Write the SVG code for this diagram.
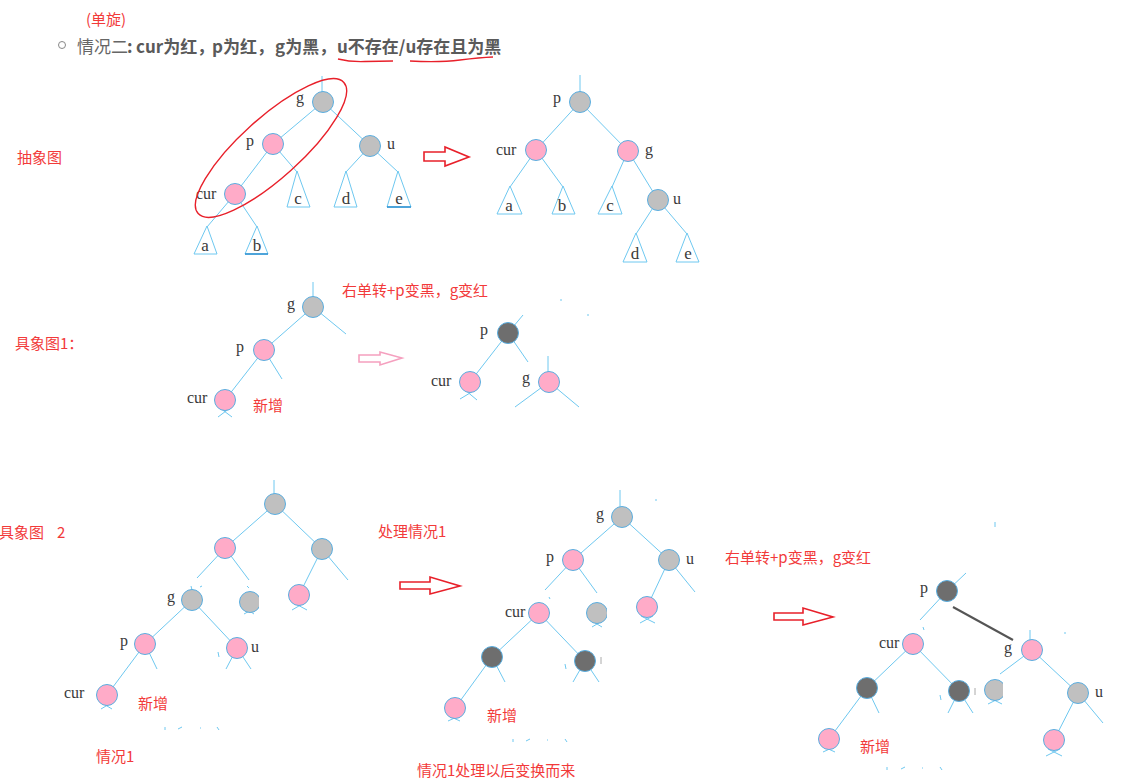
<svg xmlns="http://www.w3.org/2000/svg" width="1122" height="782" viewBox="0 0 1122 782">
<style>
.red{font-family:"Noto Sans CJK SC","Noto Sans",sans-serif;font-size:15px;fill:#f23a3a}
.hd{font-family:"Noto Sans CJK SC","Noto Sans",sans-serif;font-size:17px;fill:#666}
.lbl{font-family:"Liberation Serif",serif;font-size:16px;fill:#3a3a3a}
.tl{font-family:"Liberation Serif",serif;font-size:17px;fill:#3a3a3a;text-anchor:middle}
.e{stroke:#6ec8f0;stroke-width:1;fill:none}
.tri{stroke:#6ec8f0;stroke-width:1;fill:#fff}
.pk{fill:#ffabc8;stroke:#5aaee0;stroke-width:1}
.gy{fill:#c0c0c0;stroke:#5aaee0;stroke-width:1}
.dk{fill:#6e6e6e;stroke:#5aaee0;stroke-width:1}
.arr{fill:#fff;stroke:#e8202a;stroke-width:1.6}
</style>
<defs>
<clipPath id="c1"><rect x="230" y="580" width="29" height="40"/></clipPath>
<clipPath id="c2"><rect x="580" y="590" width="27" height="40"/></clipPath>
<clipPath id="c3"><rect x="980" y="675" width="23" height="40"/></clipPath>
</defs>
<rect width="1122" height="782" fill="#fff"/>

<!-- header -->
<g id="header">
<text class="red" x="86" y="25">(单旋)</text>
<circle cx="62" cy="45" r="3.5" fill="none" stroke="#888" stroke-width="1"/>
<text class="hd" y="53"><tspan x="77">情况二</tspan><tspan x="127" font-weight="bold" fill="#5a5a5a">:</tspan><tspan x="136" font-weight="bold" fill="#5a5a5a">cur为红，</tspan><tspan x="212" font-weight="bold" fill="#5a5a5a">p为红，</tspan><tspan x="275" font-weight="bold" fill="#5a5a5a">g为黑，</tspan><tspan x="337" font-weight="bold" fill="#5a5a5a">u不存在/u存在且为黑</tspan></text>
<path d="M338,59 Q350,62 365,61.5 T393,61" fill="none" stroke="#e8202a" stroke-width="1.3"/>
<path d="M410,61 Q440,62.5 460,60 T493,57" fill="none" stroke="#e8202a" stroke-width="1.3"/>
</g>

<!-- section labels -->
<g id="labels">
<text class="red" x="17" y="163">抽象图</text>
<text class="red" x="15" y="349">具象图1：</text>
<text class="red" x="342" y="296">右单转+p变黑，g变红</text>
<text class="red" x="253" y="411">新增</text>
<text class="red" x="-1" y="538">具象图</text>
<text class="red" x="57" y="538">2</text>
<text class="red" x="378" y="537">处理情况1</text>
<text class="red" x="138" y="709">新增</text>
<text class="red" x="96" y="762">情况1</text>
<text class="red" x="487" y="721">新增</text>
<text class="red" x="417" y="776">情况1处理以后变换而来</text>
<text class="red" x="725" y="563">右单转+p变黑，g变红</text>
<text class="red" x="860" y="752">新增</text>
</g>

<!-- connectors -->
<g id="connectors">
<!-- abstract left -->
<line class="e" x1="322" y1="76" x2="322" y2="92"/>
<line class="e" x1="323" y1="102" x2="273" y2="144"/>
<line class="e" x1="323" y1="102" x2="370" y2="146"/>
<line class="e" x1="273" y1="144" x2="235" y2="194"/>
<line class="e" x1="273" y1="144" x2="297" y2="172"/>
<line class="e" x1="370" y1="146" x2="346" y2="172"/>
<line class="e" x1="370" y1="146" x2="398" y2="172"/>
<line class="e" x1="235" y1="194" x2="207" y2="227"/>
<line class="e" x1="235" y1="194" x2="257" y2="227"/>
<!-- abstract right -->
<line class="e" x1="580" y1="75" x2="580" y2="92"/>
<line class="e" x1="580" y1="102" x2="536" y2="150"/>
<line class="e" x1="580" y1="102" x2="628" y2="151"/>
<line class="e" x1="536" y1="150" x2="510" y2="187"/>
<line class="e" x1="536" y1="150" x2="563" y2="187"/>
<line class="e" x1="628" y1="151" x2="612" y2="187"/>
<line class="e" x1="628" y1="151" x2="658" y2="200"/>
<line class="e" x1="658" y1="200" x2="636" y2="234"/>
<line class="e" x1="658" y1="200" x2="687" y2="234"/>
<!-- concrete 1 left -->
<line class="e" x1="313" y1="282" x2="313" y2="297"/>
<line class="e" x1="313" y1="307" x2="264" y2="350"/>
<line class="e" x1="313" y1="307" x2="346" y2="334"/>
<line class="e" x1="264" y1="350" x2="225" y2="400"/>
<line class="e" x1="264" y1="350" x2="282" y2="379"/>
<line class="e" x1="220" y1="408" x2="232" y2="417"/>
<line class="e" x1="230" y1="408" x2="218" y2="417"/>
<!-- concrete 1 right -->
<line class="e" x1="508" y1="333" x2="523" y2="315"/>
<line class="e" x1="508" y1="333" x2="470" y2="382"/>
<line class="e" x1="508" y1="333" x2="528" y2="362"/>
<line class="e" x1="548" y1="356" x2="548" y2="372"/>
<line class="e" x1="549" y1="382" x2="515" y2="407"/>
<line class="e" x1="549" y1="382" x2="579" y2="407"/>
<line class="e" x1="465" y1="390" x2="477" y2="400"/>
<line class="e" x1="475" y1="390" x2="460" y2="399"/>
<line class="e" x1="561" y1="299" x2="561" y2="301"/>
<line class="e" x1="588" y1="314" x2="588" y2="316"/>
<!-- concrete 2 tree A -->
<line class="e" x1="274" y1="480" x2="274" y2="495"/>
<line class="e" x1="275" y1="504" x2="225" y2="548"/>
<line class="e" x1="275" y1="504" x2="322" y2="549"/>
<line class="e" x1="225" y1="548" x2="197" y2="578"/>
<line class="e" x1="225" y1="548" x2="249" y2="580"/>
<line class="e" x1="191" y1="586" x2="192" y2="590"/>
<line class="e" x1="200" y1="587" x2="202" y2="586"/>
<line class="e" x1="247" y1="586" x2="249" y2="588"/>
<line class="e" x1="322" y1="549" x2="299" y2="595"/>
<line class="e" x1="322" y1="549" x2="348" y2="580"/>
<line class="e" x1="294" y1="603" x2="307" y2="610"/>
<line class="e" x1="304" y1="603" x2="292" y2="610"/>
<line class="e" x1="192" y1="600" x2="145" y2="644"/>
<line class="e" x1="192" y1="600" x2="237" y2="648"/>
<line class="e" x1="145" y1="644" x2="107" y2="695"/>
<line class="e" x1="145" y1="644" x2="157" y2="669"/>
<line class="e" x1="237" y1="648" x2="226" y2="669"/>
<line class="e" x1="237" y1="648" x2="251" y2="669"/>
<line class="e" x1="218" y1="652" x2="219" y2="657"/>
<line class="e" x1="245" y1="608" x2="254" y2="614"/>
<line class="e" x1="255" y1="608" x2="244" y2="614"/>
<line class="e" x1="102" y1="703" x2="112" y2="709"/>
<line class="e" x1="111" y1="703" x2="101" y2="709"/>
<line class="e" x1="165" y1="727" x2="165" y2="730"/>
<line class="e" x1="178" y1="729" x2="182" y2="727"/>
<line class="e" x1="200" y1="728" x2="201" y2="728"/>
<line class="e" x1="217" y1="727" x2="219" y2="730"/>
<!-- concrete 2 tree B -->
<line class="e" x1="620" y1="490" x2="620" y2="507"/>
<line class="e" x1="622" y1="517" x2="573" y2="560"/>
<line class="e" x1="622" y1="517" x2="669" y2="560"/>
<line class="e" x1="573" y1="560" x2="545" y2="590"/>
<line class="e" x1="573" y1="560" x2="597" y2="593"/>
<line class="e" x1="549" y1="597" x2="550" y2="599"/>
<line class="e" x1="669" y1="560" x2="647" y2="607"/>
<line class="e" x1="669" y1="560" x2="695" y2="592"/>
<line class="e" x1="641" y1="616" x2="655" y2="623"/>
<line class="e" x1="653" y1="616" x2="640" y2="623"/>
<line class="e" x1="592" y1="621" x2="602" y2="627"/>
<line class="e" x1="602" y1="621" x2="592" y2="627"/>
<line class="e" x1="539" y1="613" x2="492" y2="657"/>
<line class="e" x1="539" y1="613" x2="585" y2="661"/>
<line class="e" x1="492" y1="657" x2="455" y2="708"/>
<line class="e" x1="492" y1="657" x2="505" y2="682"/>
<line class="e" x1="585" y1="661" x2="573" y2="682"/>
<line class="e" x1="585" y1="661" x2="599" y2="682"/>
<line class="e" x1="565" y1="664" x2="566" y2="669"/>
<line class="e" x1="449" y1="716" x2="460" y2="721"/>
<line class="e" x1="459" y1="716" x2="448" y2="721"/>
<line class="e" x1="656" y1="499" x2="656" y2="501"/>
<line class="e" x1="513" y1="739" x2="513" y2="742"/>
<line class="e" x1="526" y1="741" x2="530" y2="739"/>
<line class="e" x1="547" y1="740" x2="548" y2="740"/>
<line class="e" x1="565" y1="739" x2="567" y2="742"/>
<!-- concrete 2 tree C -->
<line class="e" x1="995" y1="522" x2="995" y2="527"/>
<line class="e" x1="947" y1="591" x2="966" y2="573"/>
<line class="e" x1="947" y1="591" x2="920" y2="620"/>
<line class="e" x1="923" y1="627" x2="924" y2="630"/>
<line x1="953" y1="607" x2="1013" y2="640" stroke="#555" stroke-width="2"/>
<line class="e" x1="1030" y1="630" x2="1030" y2="640"/>
<line class="e" x1="1065" y1="632" x2="1065" y2="634"/>
<line class="e" x1="913" y1="644" x2="867" y2="688"/>
<line class="e" x1="913" y1="644" x2="959" y2="691"/>
<line class="e" x1="867" y1="688" x2="829" y2="739"/>
<line class="e" x1="867" y1="688" x2="879" y2="713"/>
<line class="e" x1="959" y1="691" x2="948" y2="713"/>
<line class="e" x1="959" y1="691" x2="973" y2="713"/>
<line class="e" x1="940" y1="695" x2="941" y2="700"/>
<line class="e" x1="1032" y1="650" x2="1000" y2="674"/>
<line class="e" x1="1032" y1="650" x2="1078" y2="693"/>
<line class="e" x1="990" y1="698" x2="1002" y2="704"/>
<line class="e" x1="1000" y1="698" x2="988" y2="704"/>
<line class="e" x1="1078" y1="693" x2="1054" y2="740"/>
<line class="e" x1="1078" y1="693" x2="1103" y2="723"/>
<line class="e" x1="1048" y1="749" x2="1062" y2="756"/>
<line class="e" x1="1060" y1="749" x2="1046" y2="756"/>
<line class="e" x1="824" y1="747" x2="835" y2="752"/>
<line class="e" x1="834" y1="747" x2="823" y2="752"/>
<line class="e" x1="887" y1="767" x2="887" y2="770"/>
<line class="e" x1="901" y1="769" x2="905" y2="767"/>
<line class="e" x1="922" y1="768" x2="923" y2="768"/>
<line class="e" x1="940" y1="767" x2="942" y2="770"/>
</g>

<!-- arrows -->
<g id="arrows">
<polygon class="arr" points="424,152 445,152 445,147 469,157 445,166 445,161 424,161"/>
<polygon points="359,355 380,355 380,352 402,358 380,365 380,362 359,362" fill="#fff" stroke="#f5a0bf" stroke-width="1.6"/>
<polygon class="arr" points="400,582 430,582 430,577 460,586 430,594 430,589 400,589"/>
<polygon class="arr" points="774,613 803,613 803,608 833,617 803,625 803,620 774,620"/>
</g>

<!-- abstract left tree -->
<g id="abs-left">
<g id="abs-tri-c"><polygon class="tri" points="297,171 287,207 310,207"/><text class="tl" x="298" y="204">c</text></g>
<g id="abs-tri-d"><polygon class="tri" points="346,171 334,207 357,207"/><text class="tl" x="346" y="204">d</text></g>
<g id="abs-tri-e"><polygon class="tri" points="398,171 387,207 411,207"/><line x1="387" y1="207" x2="411" y2="207" stroke="#2a8fd0" stroke-width="1.5"/><text class="tl" x="399" y="204">e</text></g>
<g id="abs-tri-a"><polygon class="tri" points="207,226 194,254 217,254"/><text class="tl" x="205" y="251">a</text></g>
<g id="abs-tri-b"><polygon class="tri" points="257,226 245,254 268,254"/><line x1="245" y1="254" x2="268" y2="254" stroke="#2a8fd0" stroke-width="1.5"/><text class="tl" x="257" y="251">b</text></g>
<g id="abs-g"><circle class="gy" cx="323" cy="102" r="10.5"/><text class="lbl" x="296" y="103">g</text></g>
<g id="abs-p"><circle class="pk" cx="273" cy="144" r="10.5"/><text class="lbl" x="246" y="146">p</text></g>
<g id="abs-u"><circle class="gy" cx="370" cy="146" r="10.5"/><text class="lbl" x="387" y="149">u</text></g>
<g id="abs-cur"><circle class="pk" cx="235" cy="194" r="10.5"/><text class="lbl" x="196" y="199">cur</text></g>
<ellipse cx="271" cy="148" rx="98" ry="30" transform="rotate(-42 271 148)" fill="none" stroke="#e8202a" stroke-width="1.4"/>
</g>

<!-- abstract right tree -->
<g id="abs-right">
<g id="absr-tri-a"><polygon class="tri" points="510,186 497,214 522,214"/><text class="tl" x="509" y="211">a</text></g>
<g id="absr-tri-b"><polygon class="tri" points="563,186 552,214 575,214"/><text class="tl" x="562" y="211">b</text></g>
<g id="absr-tri-c"><polygon class="tri" points="612,186 598,214 622,214"/><text class="tl" x="610" y="211">c</text></g>
<g id="absr-tri-d"><polygon class="tri" points="636,233 623,262 647,262"/><text class="tl" x="635" y="259">d</text></g>
<g id="absr-tri-e"><polygon class="tri" points="687,233 676,262 699,262"/><text class="tl" x="688" y="259">e</text></g>
<g id="absr-p"><circle class="gy" cx="580" cy="102" r="10.5"/><text class="lbl" x="553" y="103">p</text></g>
<g id="absr-cur"><circle class="pk" cx="536" cy="150" r="10.5"/><text class="lbl" x="496" y="155">cur</text></g>
<g id="absr-g"><circle class="pk" cx="628" cy="151" r="10.5"/><text class="lbl" x="645" y="155">g</text></g>
<g id="absr-u"><circle class="gy" cx="658" cy="200" r="10.5"/><text class="lbl" x="673" y="204">u</text></g>
</g>

<!-- concrete 1 -->
<g id="c1-g"><circle class="gy" cx="313" cy="307" r="10.5"/><text class="lbl" x="287" y="309">g</text></g>
<g id="c1-p"><circle class="pk" cx="264" cy="350" r="10.5"/><text class="lbl" x="236" y="352">p</text></g>
<g id="c1-cur"><circle class="pk" cx="225" cy="400" r="10.5"/><text class="lbl" x="187" y="403">cur</text></g>
<g id="c1r-p"><circle class="dk" cx="508" cy="333" r="10.5"/><text class="lbl" x="480" y="335">p</text></g>
<g id="c1r-cur"><circle class="pk" cx="470" cy="382" r="10.5"/><text class="lbl" x="431" y="386">cur</text></g>
<g id="c1r-g"><circle class="pk" cx="549" cy="382" r="10.5"/><text class="lbl" x="522" y="383">g</text></g>

<!-- concrete 2 tree A -->
<g id="c2a-root"><circle class="gy" cx="275" cy="504" r="10.5"/></g>
<g id="c2a-l"><circle class="pk" cx="225" cy="548" r="10.5"/></g>
<g id="c2a-r"><circle class="gy" cx="322" cy="549" r="10.5"/></g>
<g id="c2a-rl"><circle class="pk" cx="299" cy="595" r="10.5"/></g>
<g id="c2a-g"><circle class="gy" cx="192" cy="600" r="10.5"/><text class="lbl" x="167" y="602">g</text></g>
<g id="c2a-clip"><circle class="gy" cx="250" cy="602" r="10.5" clip-path="url(#c1)"/></g>
<g id="c2a-p"><circle class="pk" cx="145" cy="644" r="10.5"/><text class="lbl" x="120" y="646">p</text></g>
<g id="c2a-u"><circle class="pk" cx="237" cy="648" r="10.5"/><text class="lbl" x="251" y="652">u</text></g>
<g id="c2a-cur"><circle class="pk" cx="107" cy="695" r="10.5"/><text class="lbl" x="64" y="698">cur</text></g>

<!-- concrete 2 tree B -->
<g id="c2b-g"><circle class="gy" cx="622" cy="517" r="10.5"/><text class="lbl" x="596" y="519">g</text></g>
<g id="c2b-p"><circle class="pk" cx="573" cy="560" r="10.5"/><text class="lbl" x="546" y="562">p</text></g>
<g id="c2b-u"><circle class="gy" cx="669" cy="560" r="10.5"/><text class="lbl" x="686" y="564">u</text></g>
<g id="c2b-cur"><circle class="pk" cx="539" cy="613" r="10.5"/><text class="lbl" x="505" y="617">cur</text></g>
<g id="c2b-clip"><circle class="gy" cx="597" cy="613" r="10.5" clip-path="url(#c2)"/></g>
<g id="c2b-ul"><circle class="pk" cx="647" cy="607" r="10.5"/></g>
<g id="c2b-d1"><circle class="dk" cx="492" cy="657" r="10.5"/></g>
<g id="c2b-d2"><circle class="dk" cx="585" cy="661" r="10.5"/><line x1="601" y1="657" x2="601" y2="664" stroke="#aaa" stroke-width="1"/></g>
<g id="c2b-new"><circle class="pk" cx="455" cy="708" r="10.5"/></g>

<!-- concrete 2 tree C -->
<g id="c2c-p"><circle class="dk" cx="947" cy="591" r="10.5"/><text class="lbl" x="920" y="593">p</text></g>
<g id="c2c-cur"><circle class="pk" cx="913" cy="644" r="10.5"/><text class="lbl" x="879" y="648">cur</text></g>
<g id="c2c-g"><circle class="pk" cx="1032" cy="650" r="10.5"/><text class="lbl" x="1004" y="653">g</text></g>
<g id="c2c-d1"><circle class="dk" cx="867" cy="688" r="10.5"/></g>
<g id="c2c-d2"><circle class="dk" cx="959" cy="691" r="10.5"/><line x1="975" y1="688" x2="975" y2="695" stroke="#aaa" stroke-width="1"/></g>
<g id="c2c-clip"><circle class="gy" cx="995" cy="690" r="10.5" clip-path="url(#c3)"/></g>
<g id="c2c-u"><circle class="gy" cx="1078" cy="693" r="10.5"/><text class="lbl" x="1095" y="697">u</text></g>
<g id="c2c-new"><circle class="pk" cx="829" cy="739" r="10.5"/></g>
<g id="c2c-ul"><circle class="pk" cx="1054" cy="740" r="10.5"/></g>
</svg>
